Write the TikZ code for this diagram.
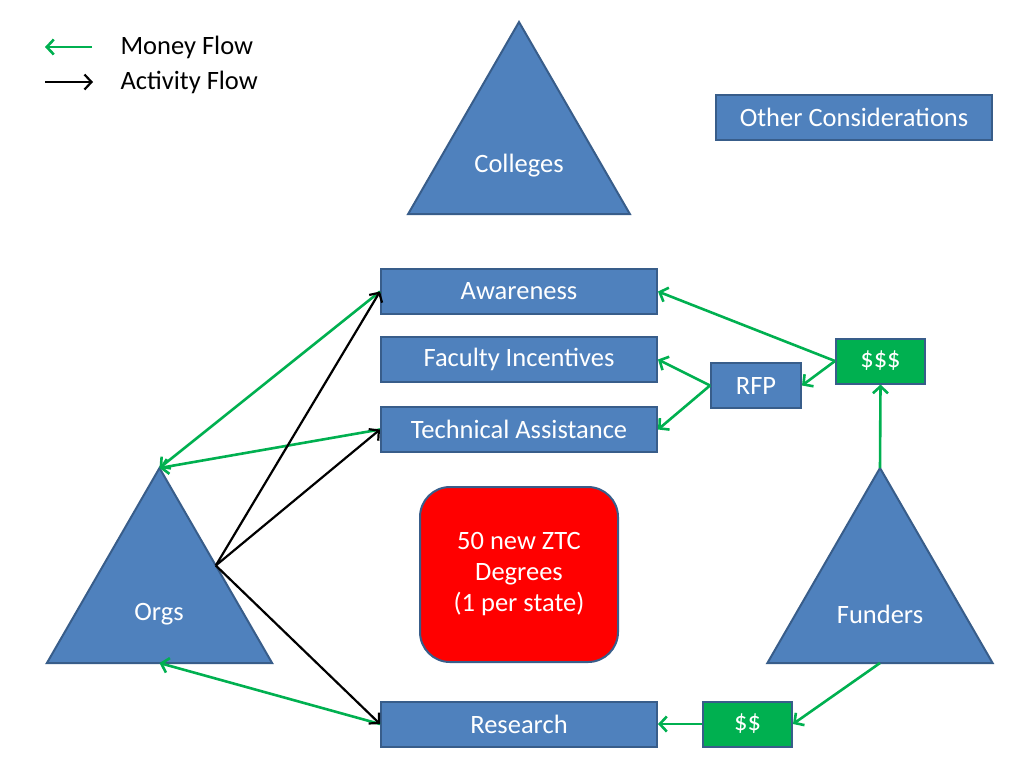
\documentclass[tikz,border=0pt]{standalone}
\usepackage{fontspec}
\setmainfont{Carlito}
\usetikzlibrary{arrows.meta,shapes.geometric,calc}
\definecolor{boxblue}{HTML}{4F81BD}
\definecolor{edgeblue}{HTML}{385D8A}
\definecolor{moneygreen}{HTML}{00B050}

\begin{document}
\begin{tikzpicture}[x=1pt, y=-1pt,
  every node/.style={font=\fontsize{26.5}{31}\selectfont},
  box/.style={draw=edgeblue, line width=2pt, fill=boxblue, text=white,
              minimum width=276pt, minimum height=45pt, inner sep=0pt},
  cash/.style={box, fill=moneygreen, minimum width=89pt},
  goal/.style={draw=edgeblue, line width=2pt, fill=red, text=white, align=center,
               rounded corners=30pt, minimum width=198pt, minimum height=175pt},
  tri/.style={regular polygon, regular polygon sides=3, draw=edgeblue,
              line width=2pt, fill=boxblue, inner sep=0pt, outer sep=0pt},
  trilabel/.style={text=white},
  legend/.style={anchor=west, text=black},
  money/.style={draw=moneygreen, line width=2.6pt, -{Straight Barb[length=7pt,width=15pt]}},
  activity/.style={draw=black, line width=2.2pt, -{Straight Barb[length=7pt,width=15pt]}}]

\useasboundingbox (0,0) rectangle (1024,772);

%% ---- Legenda ----
\coordinate (mtail) at (92,47);
\coordinate (mhead) at (45,47);
\coordinate (atail) at (45,82);
\coordinate (ahead) at (93,82);
\draw[money] (mtail) -- (mhead);
\draw[activity] (atail) -- (ahead);
\node[legend] (mlabel) at (117,47) {Money Flow};
\node[legend] (alabel) at (117,82) {Activity Flow};

%% ---- Triangoli ----
\node[tri, minimum size=256pt] (colleges) at (519,150) {};
\node[tri, minimum size=260pt] (orgs) at (159.5,598) {};
\node[tri, minimum size=260pt] (funders) at (880,598) {};
\node[trilabel] (collegesname) at (519,166) {Colleges};
\node[trilabel] (orgsname) at (159,614) {Orgs};
\node[trilabel] (fundersname) at (880,614) {Funders};

%% ---- Riquadri ----
\node[box] (other) at (854,117.5) {Other Considerations};
\node[box] (aware) at (519,291.5) {Awareness};
\node[box] (faculty) at (519,359.5) {Faculty Incentives};
\node[box] (tech) at (519,429.5) {Technical Assistance};
\node[box] (research) at (519,724) {Research};
\node[box, minimum width=90pt] (rfp) at (756,385.5) {RFP};
\node[cash] (big) at (880.5,361) {\$\$\$};
\node[cash] (small) at (747.5,724) {\$\$};
\node[goal] (ztc) at (519,574.5) {50 new ZTC\\Degrees\\(1 per state)};

%% ---- Frecce denaro ----
\draw[money] (big.west) -- (aware.east);
\draw[money] (big.west) -- (rfp.east);
\draw[money] (rfp.west) -- (faculty.east);
\draw[money] (rfp.west) -- (tech.east);
\draw[money] (funders.corner 1) -- (big.south);
\draw[money] (funders.side 2) -- (small.east);
\draw[money] (small.west) -- (research.east);
\draw[money] (research.west) -- (orgs.side 2);
\draw[money] (aware.west) -- (orgs.corner 1);
\draw[money] (tech.west) -- (orgs.corner 1);

%% ---- Frecce attivita ----
\coordinate (orgsout) at ($(orgs.corner 1)!0.5!(orgs.corner 3)$);
\draw[activity] (orgsout) -- (aware.west);
\draw[activity] (orgsout) -- (tech.west);
\draw[activity] (orgsout) -- (research.west);

\end{tikzpicture}
\end{document}
